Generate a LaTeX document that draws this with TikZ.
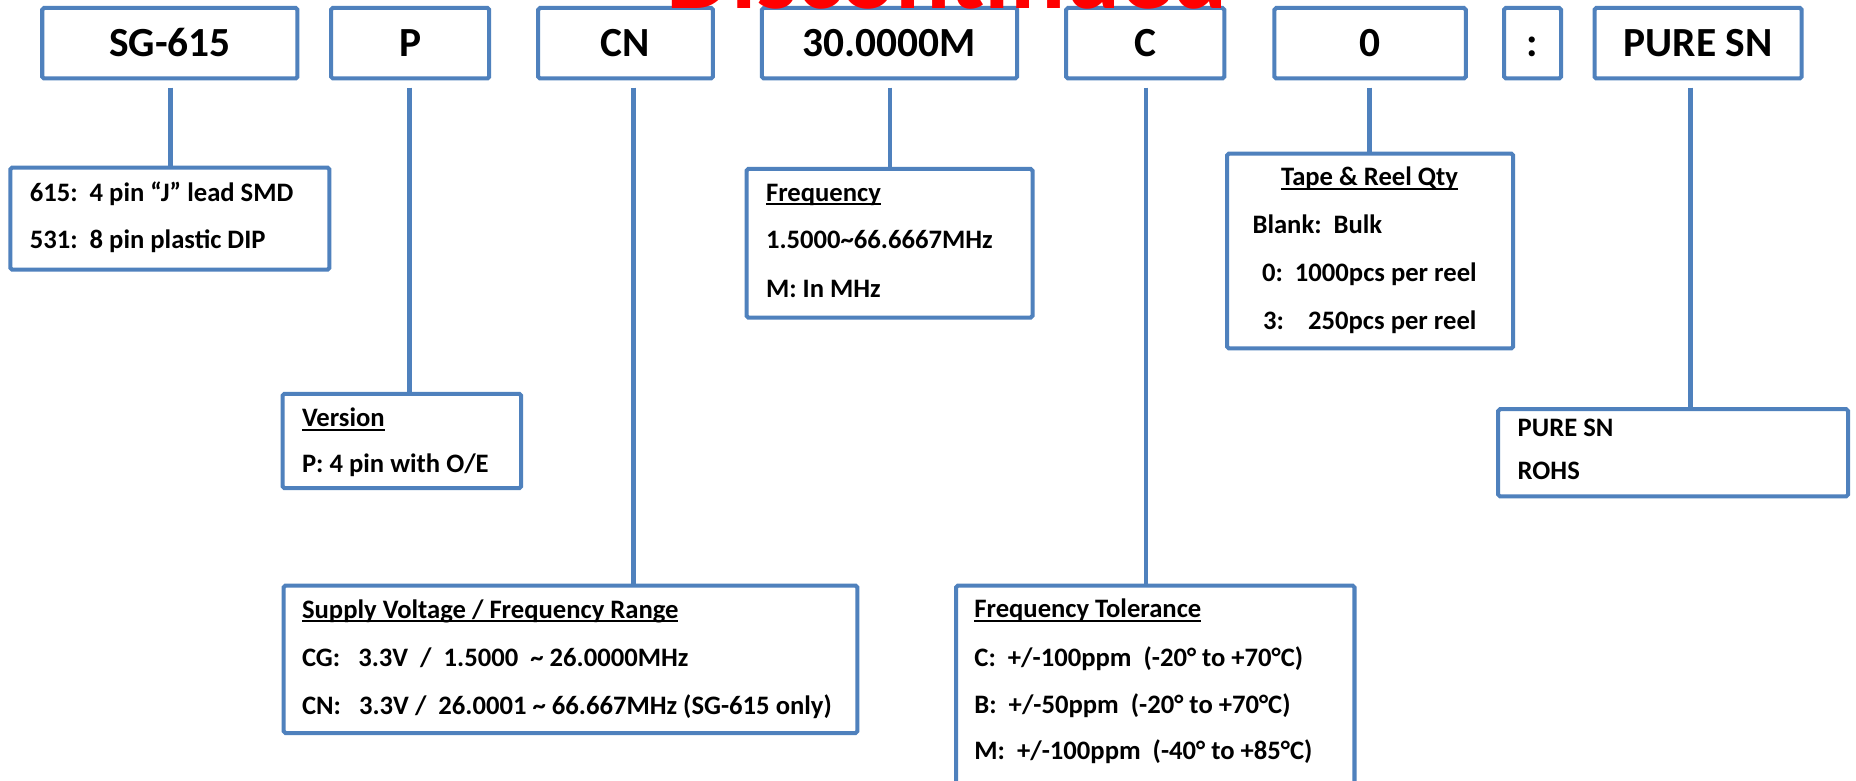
\documentclass[tikz,border=0pt]{standalone}
\usepackage{fontspec}
\setmainfont{Carlito}
\definecolor{boxblue}{HTML}{4F81BD}
\newcommand\hdr[1]{\setbox0\hbox{#1}\rlap{\rule[-3.4pt]{\wd0}{1.7pt}}\box0}
\begin{document}
\begin{tikzpicture}[x=1pt,y=-1pt,
  topbox/.style={draw=boxblue, line width=3.4pt, rounded corners=1.5pt, fill=white, inner sep=0pt,
    font=\fontsize{35}{40}\selectfont\bfseries, text height=22pt, text depth=0pt, minimum height=59.6pt},
  lowbox/.style={draw=boxblue, line width=3.4pt, rounded corners=1.5pt, fill=white, inner sep=0pt},
  txt/.style={anchor=base west, inner sep=0pt, font=\fontsize{22.5}{27}\selectfont\bfseries},
  ctxt/.style={txt, anchor=base},
  leader/.style={draw=boxblue, line width=3.8pt}]
\useasboundingbox (0,0) rectangle (1568,659);
\clip (0,0) rectangle (1568,659);
\fill[white] (0,0) rectangle (1568,659);

% top row
\node[topbox, minimum width=215.6pt] (sg)  at (143.5,36.5) {SG-615};
\node[topbox, minimum width=133.6pt] (p)   at (346.5,36.5) {P};
\node[topbox, minimum width=147.6pt] (cn)  at (528.5,36.5) {CN};
\node[topbox, minimum width=215.6pt] (fr)  at (751.5,36.5) {30.0000M};
\node[topbox, minimum width=133.6pt] (c)   at (967.5,36.5) {C};
\node[topbox, minimum width=161.6pt] (z)   at (1157.5,36.5) {0};
\node[topbox, minimum width=48.1pt]  (col) at (1294.75,36.5) {:};
\node[topbox, minimum width=175pt]   (ps)  at (1434.6,36.5) {PURE SN};

% lower boxes
\node[lowbox, minimum width=269.6pt, minimum height=86.1pt]  (pkg)  at (143.5,184.75) {};
\node[lowbox, minimum width=201.6pt, minimum height=79.6pt]  (ver)  at (339.5,372.5) {};
\node[lowbox, minimum width=241.6pt, minimum height=125.6pt] (frq)  at (751.5,205.5) {};
\node[lowbox, minimum width=241.6pt, minimum height=164.6pt] (tape) at (1157.5,212) {};
\node[lowbox, minimum width=295.6pt, minimum height=73.6pt]  (pure) at (1413.5,382.5) {};
\node[lowbox, minimum width=484.6pt, minimum height=124.6pt] (sup)  at (482,557) {};
\node[lowbox, minimum width=336.6pt, minimum height=203.6pt] (tol)  at (976,596.5) {};

% leaders
\coordinate (lsg) at (144,74);
\coordinate (lp)  at (346,74);
\coordinate (lcn) at (535,74);
\coordinate (lfr) at (752,74);
\coordinate (lc)  at (968,74);
\coordinate (lz)  at (1157,74);
\coordinate (lps) at (1428,74);
\draw[leader] (lsg) -- (lsg |- pkg.north);
\draw[leader] (lp)  -- (lp |- ver.north);
\draw[leader] (lcn) -- (lcn |- sup.north);
\draw[leader] (lfr) -- (lfr |- frq.north);
\draw[leader] (lc)  -- (lc |- tol.north);
\draw[leader] (lz)  -- (lz |- tape.north);
\draw[leader] (lps) -- (lps |- pure.north);

% texts
\node[txt] (pkg1) at (25,170.4) {615:\ \ 4 pin “J” lead SMD};
\node[txt] (pkg2) at (25,210) {531:\ \ 8 pin plastic DIP};

\node[txt] (ver1) at (255,360.5) {\hdr{Version}};
\node[txt] (ver2) at (255,399) {P: 4 pin with O/E};

\node[txt] (frq1) at (647,170) {\hdr{Frequency}};
\node[txt] (frq2) at (647,210) {1.5000\textasciitilde 66.6667MHz};
\node[txt] (frq3) at (647,251) {M: In MHz};

\node[ctxt] (tape1) at (1157,157) {\hdr{Tape \& Reel Qty}};
\node[txt] (tape2) at (1058,197) {Blank:\ \ Bulk};
\node[txt] (tape3) at (1066,238) {0:\ \ 1000pcs per reel};
\node[txt] (tape4) at (1067,278) {3:\ \ \ \ 250pcs per reel};

\node[txt] (pure1) at (1282,369) {PURE SN};
\node[txt] (pure2) at (1282,405.5) {ROHS};

\node[txt] (sup1) at (255,522.4) {\hdr{Supply Voltage / Frequency Range}};
\node[txt] (sup2) at (255,563) {CG:\ \ \ 3.3V\ \ /\ \ 1.5000\ \ \textasciitilde\ 26.0000MHz};
\node[txt] (sup3) at (255,604) {CN:\ \ \ 3.3V /\ \ 26.0001 \textasciitilde\ 66.667MHz (SG-615 only)};

\node[txt] (tol1) at (823,522) {\hdr{Frequency Tolerance}};
\node[txt] (tol2) at (823,563) {C:\ \ +/-100ppm\ \ (-20° to +70°C)};
\node[txt] (tol3) at (823,602.6) {B:\ \ +/-50ppm\ \ (-20° to +70°C)};
\node[txt] (tol4) at (823,642) {M:\ \ +/-100ppm\ \ (-40° to +85°C)};

% stamp
\node[anchor=base, text=red, inner sep=0pt, font=\fontsize{87}{90}\selectfont\bfseries] (disc) at (800,7) {Discontinued};
\end{tikzpicture}
\end{document}
